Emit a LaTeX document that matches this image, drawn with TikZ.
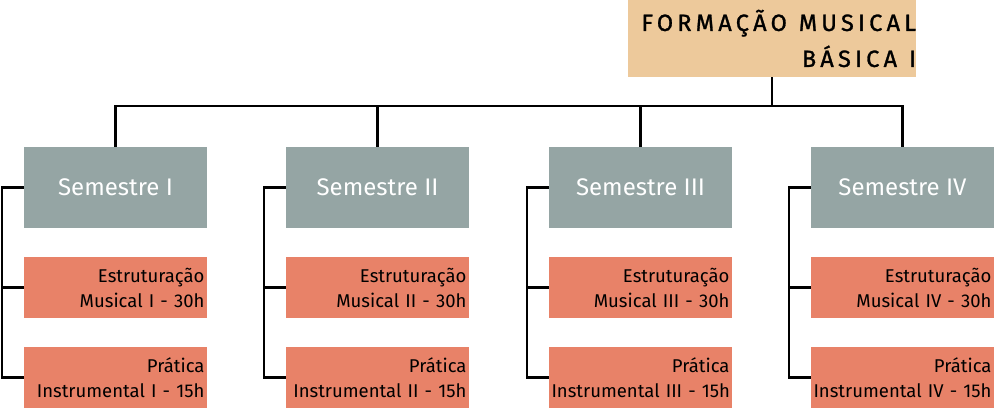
\documentclass[tikz,border=0pt]{standalone}
\usepackage{fontspec}
\setmainfont{Fira Sans}
\newfontfamily\titlefont[LetterSpace=18,FakeBold=1.2]{Fira Sans}
\definecolor{titlecol}{RGB}{237,201,155}
\definecolor{semcol}{RGB}{149,165,164}
\definecolor{coursecol}{RGB}{232,130,104}
\begin{document}
\begin{tikzpicture}[
		x=1pt,y=-1pt,
		link/.style = {line width=2.2pt, black},
		titlebox/.style = {rectangle, fill=titlecol, minimum width=288, minimum height=77,
			inner xsep=0pt, text width=288pt, align=right, font=\titlefont\fontsize{23.5}{36}\selectfont},
		semester/.style = {rectangle, fill=semcol, minimum width=183, minimum height=81,
			text=white, font=\fontsize{24}{28}\selectfont},
		course/.style = {rectangle, fill=coursecol, minimum width=183, minimum height=61,
			inner xsep=2.5pt, text width=178pt, align=right, font=\fontsize{18.5}{25}\selectfont}
	]
	\useasboundingbox (0,0) rectangle (994,409);
	\node (title) [titlebox] at (772,38.5) {FORMAÇÃO\hspace{12pt}MUSICAL\\BÁSICA\hspace{12pt}I};
	\coordinate (bar) at (772,106);
	\node (sem1) [semester] at (115.5,187.5) {Semestre I};
	\node (sem2) [semester] at (377.5,187.5) {Semestre II};
	\node (sem3) [semester] at (640.5,187.5) {Semestre III};
	\node (sem4) [semester] at (902.5,187.5) {Semestre IV};
	\node (est1) [course] at (115.5,287.5) {Estruturação\\Musical I - 30h};
	\node (est2) [course] at (377.5,287.5) {Estruturação\\Musical II - 30h};
	\node (est3) [course] at (640.5,287.5) {Estruturação\\Musical III - 30h};
	\node (est4) [course] at (902.5,287.5) {Estruturação\\Musical IV - 30h};
	\node (pra1) [course] at (115.5,377.5) {Prática\\\mbox{Instrumental I - 15h}};
	\node (pra2) [course] at (377.5,377.5) {Prática\\\mbox{Instrumental II - 15h}};
	\node (pra3) [course] at (640.5,377.5) {Prática\\\mbox{Instrumental III - 15h}};
	\node (pra4) [course] at (902.5,377.5) {Prática\\\mbox{Instrumental IV - 15h}};
	
	\draw [link] (title.south) -- (bar);
	\draw [link] (sem1.north) |- (bar) -| (sem4.north);
	\draw [link] (sem2.north) -- (sem2.north |- bar);
	\draw [link] (sem3.north) -- (sem3.north |- bar);
	\draw [link] (sem1.west) -- ++(-22,0) |- (pra1.west);
	\draw [link] (sem2.west) -- ++(-22,0) |- (pra2.west);
	\draw [link] (sem3.west) -- ++(-22,0) |- (pra3.west);
	\draw [link] (sem4.west) -- ++(-22,0) |- (pra4.west);
	\draw [link] (est1.west) -- ++(-22,0);
	\draw [link] (est2.west) -- ++(-22,0);
	\draw [link] (est3.west) -- ++(-22,0);
	\draw [link] (est4.west) -- ++(-22,0);
\end{tikzpicture}
\end{document}
